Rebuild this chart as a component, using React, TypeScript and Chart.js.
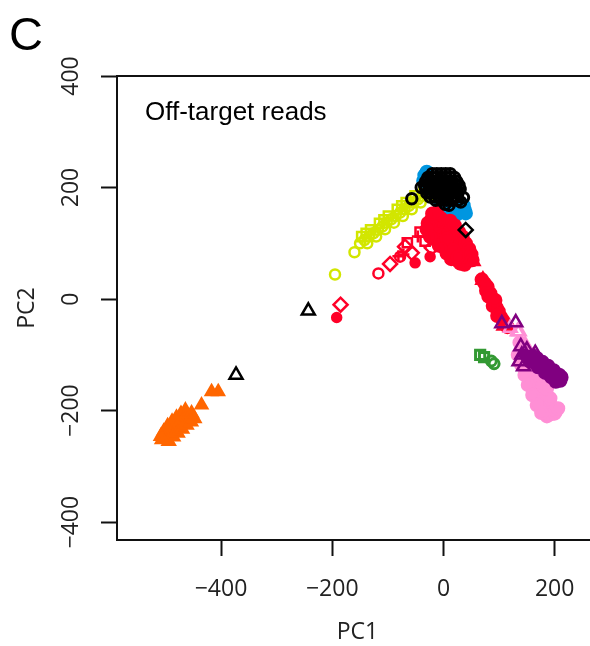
import { useEffect, useRef } from 'react';
import { Chart, registerables } from 'chart.js';

Chart.register(...registerables);

// PCA scores (PC1, PC2) per sample group
const orangeBlob = [
  [-503, -238], [-496, -228], [-488, -220], [-480, -213], [-472, -206], [-464, -200],
  [-500, -248], [-492, -240], [-484, -232], [-476, -225], [-468, -218], [-460, -211],
  [-453, -205], [-494, -255], [-486, -247], [-478, -240], [-470, -233], [-462, -226],
  [-454, -220], [-448, -214], [-508, -246], [-506, -252],
];
const orangeTri = [[-435, -190], [-417, -166], [-405, -166]];

const blackTri = [[-373, -136], [-243, -21]];
const blackDiamond = [[40, 124]];
const blackCircles = [
  [-57, 180], [3, 170], [31, 174], [10, 168], [36, 182], [-40, 200],
  [-20, 225], [-12, 225], [-4, 225], [4, 225], [12, 225],
  [-28, 218], [-20, 218], [-12, 218], [-4, 218], [4, 218], [12, 218], [20, 218],
  [-32, 211], [-24, 211], [-16, 211], [-8, 211], [0, 211], [8, 211], [16, 211], [24, 211],
  [-34, 204], [-26, 204], [-18, 204], [-10, 204], [-2, 204], [6, 204], [14, 204], [22, 204], [28, 204],
  [-32, 197], [-24, 197], [-16, 197], [-8, 197], [0, 197], [8, 197], [16, 197], [24, 197], [30, 197],
  [-30, 190], [-22, 190], [-14, 190], [-6, 190], [2, 190], [10, 190], [18, 190], [26, 190],
  [-24, 183], [-16, 183], [-8, 183], [0, 183], [8, 183], [16, 183], [24, 183],
  [-14, 177], [-4, 177], [6, 177], [16, 177], [26, 177],
  [-28, 214], [-20, 207], [-6, 214], [10, 207], [18, 200], [-12, 193], [4, 186], [20, 193],
];
const blueDots = [
  [-34, 222], [-36, 212], [-30, 228], [0, 160], [8, 156], [16, 154], [24, 152],
  [32, 156], [38, 160], [30, 166], [20, 162], [12, 166], [4, 168], [36, 168],
  [26, 158], [-6, 166], [40, 154],
];

const limeCircles = [
  [-195, 44], [-160, 84],
  [-150, 100], [-142, 106], [-134, 112], [-126, 118], [-118, 124], [-110, 130],
  [-102, 137], [-94, 143], [-86, 149], [-78, 155], [-70, 161], [-62, 167],
  [-54, 173], [-46, 179], [-38, 185], [-30, 191], [-24, 197],
  [-137, 100], [-121, 112], [-105, 125], [-89, 137], [-73, 149], [-57, 161],
  [-41, 173], [-25, 185],
];
const limeSquares = [
  [-147, 112], [-131, 124], [-115, 136], [-99, 149], [-83, 161], [-67, 173],
  [-51, 185], [-35, 197], [-139, 118], [-107, 142], [-75, 167],
];

const redDots = [
  [-18, 150], [-10, 148], [-5, 145], [-22, 142], [-15, 138], [-7, 136], [0, 140],
  [-25, 132], [-16, 128], [-6, 126], [2, 130], [8, 125], [-20, 120], [-10, 116],
  [0, 114], [10, 118], [16, 112], [-14, 106], [-4, 104], [5, 102], [14, 100],
  [22, 104], [-8, 96], [2, 92], [12, 90], [20, 92], [28, 96], [6, 82], [16, 80],
  [24, 82], [32, 86], [14, 72], [24, 70], [34, 74], [40, 78], [30, 64], [38, 62],
  [44, 68], [-28, 136], [6, 108], [18, 88], [26, 76],
  [-20, 153], [-12, 155], [-30, 125], [-24, 112], [12, 140], [20, 132], [28, 120],
  [34, 112], [40, 100], [46, 90], [50, 80], [52, 70],
  [69, 35], [74, 28], [79, 22], [77, 15], [84, 10], [87, 2], [91, -5], [89, -12],
  [95, -15], [99, -22], [97, -30], [103, -32], [107, -38], [111, -45], [115, -50],
  [81, 5], [93, -2],
];
const redFilled = [[-192, -33], [-51, 65], [-24, 76], [-3, 92]];
const redTri = [[53, 68], [71, 34], [109, -48]];
const redSquares = [[-65, 101], [-42, 120], [-33, 104]];
const redDiamonds = [[-185, -10], [-96, 63], [-57, 83], [-21, 92], [-69, 94]];
const redCircles = [[-117, 46], [-78, 76]];
const redCrosses = [[-81, 77], [-72, 80], [-46, 112]];

const purpleTri = [
  [105, -44], [130, -42], [139, -85], [150, -91], [165, -97], [144, -121],
  [136, -112], [141, -100],
];
const purpleDots = [
  [148, -98], [154, -103], [160, -108], [166, -112], [172, -117], [178, -121],
  [184, -126], [190, -130], [196, -134], [202, -138], [206, -142], [210, -146],
  [158, -100], [168, -106], [178, -113], [188, -120], [198, -128], [208, -136],
  [156, -112], [170, -122], [183, -132], [194, -140], [202, -148], [212, -140],
];
const pinkTri = [[120, -52], [136, -58], [133, -58], [147, -82]];
const pinkDots = [
  [137, -78], [143, -84], [139, -92], [148, -95], [143, -104], [153, -108],
  [146, -115], [156, -120], [150, -128], [160, -132], [154, -140], [164, -145],
  [158, -152], [168, -156], [163, -164], [173, -168], [168, -176], [178, -180],
  [174, -188], [184, -192], [180, -200], [190, -198], [194, -206], [186, -210],
  [198, -195], [188, -184], [182, -172], [176, -160], [172, -148], [166, -136],
  [162, -124], [158, -110], [200, -205], [203, -200],
  [134, -100], [140, -118], [146, -136], [152, -154], [160, -172], [168, -190],
  [176, -204], [192, -178], [186, -160], [180, -142], [174, -126], [206, -196],
];
const greenSquares = [[66, -100], [73, -104]];
const greenCircles = [[86, -111], [91, -116]];

const xTicks = [-400, -200, 0, 200];
const yTicks = [-400, -200, 0, 200, 400];

// axis extents: PC1 starts at X_MIN on the left edge, PC1 and PC2 share one pixel scale
const X_MIN = -587;
const Y_MIN = -432;
const Y_MAX = 400;
const PX_PER_UNIT = 0.5556;

const COLORS = {
  orange: '#FF6600',
  black: '#000000',
  blue: '#0096E0',
  lime: '#D2E600',
  red: '#FF0028',
  purple: '#800080',
  pink: '#FF8FD5',
  green: '#339933',
};

const TICK_FONT = '"Open Sans", "DejaVu Sans", sans-serif';
const TEXT_FONT = '"Liberation Sans", Arial, sans-serif';

const fmt = (v: number) => (v < 0 ? '\u2212' + Math.abs(v) : String(v));

const series = (
  data: number[][],
  color: string,
  style: string,
  filled: boolean,
  radius: number,
  width = 2.5,
) => ({
  data: data.map(([x, y]) => ({ x, y })),
  pointStyle: style,
  pointRadius: radius,
  pointHoverRadius: radius,
  pointBorderWidth: width,
  pointBorderColor: color,
  pointBackgroundColor: filled ? color : 'rgba(0,0,0,0)',
  showLine: false,
});

// box top edge, rotated y tick labels, panel letter and inset caption
const decorations = {
  id: 'decorations',
  afterDraw(chart: any) {
    const { ctx, chartArea } = chart;
    ctx.save();
    ctx.strokeStyle = '#111';
    ctx.lineWidth = 2;
    ctx.beginPath();
    ctx.moveTo(chartArea.left - 1, chartArea.top);
    ctx.lineTo(chart.width, chartArea.top);
    ctx.stroke();

    const ys = chart.scales.y;
    ctx.fillStyle = '#222';
    ctx.font = `23px ${TICK_FONT}`;
    ctx.textAlign = 'center';
    ctx.textBaseline = 'middle';
    for (const v of yTicks) {
      const py = ys.getPixelForValue(v);
      ctx.save();
      ctx.translate(71, py);
      ctx.rotate(-Math.PI / 2);
      ctx.fillText(fmt(v), 0, 0);
      ctx.restore();
    }

    ctx.fillStyle = '#000';
    ctx.textAlign = 'left';
    ctx.textBaseline = 'alphabetic';
    ctx.font = `47px ${TEXT_FONT}`;
    ctx.fillText('C', 9, 50);
    ctx.font = `26px ${TEXT_FONT}`;
    ctx.fillText('Off-target reads', 145, 120);
    ctx.restore();
  },
};

export default function App() {
  const canvasRef = useRef<HTMLCanvasElement | null>(null);

  useEffect(() => {
    let chart: Chart | null = null;
    let cancelled = false;
    const build = () => {
      if (cancelled || !canvasRef.current) return;
      chart = new Chart(canvasRef.current, {
        type: 'scatter',
        data: {
          datasets: [
            series(blackCircles, COLORS.black, 'circle', false, 5.2, 3),
            series(blackTri, COLORS.black, 'triangle', false, 7.5),
            series(blackDiamond, COLORS.black, 'rectRot', false, 7),
            series(greenSquares, COLORS.green, 'rect', false, 6.5, 3),
            series(greenCircles, COLORS.green, 'circle', false, 5, 3),
            series(purpleTri, COLORS.purple, 'triangle', false, 7.5),
            series(pinkTri, COLORS.pink, 'triangle', false, 7.5),
            series(purpleDots, COLORS.purple, 'circle', true, 6),
            series(pinkDots, COLORS.pink, 'circle', true, 6),
            series(redTri, COLORS.red, 'triangle', false, 7.5),
            series(redSquares, COLORS.red, 'rect', false, 6.5),
            series(redDiamonds, COLORS.red, 'rectRot', false, 7),
            series(redCircles, COLORS.red, 'circle', false, 5),
            series(redCrosses, COLORS.red, 'cross', false, 6),
            series(redFilled, COLORS.red, 'circle', true, 4.5),
            series(redDots, COLORS.red, 'circle', true, 6),
            series(blueDots, COLORS.blue, 'circle', true, 6),
            series(limeCircles, COLORS.lime, 'circle', false, 5),
            series(limeSquares, COLORS.lime, 'rect', false, 6.5),
            series(orangeTri, COLORS.orange, 'triangle', true, 6.5),
            series(orangeBlob, COLORS.orange, 'triangle', true, 7),
          ].map((d, i) => ({ ...d, order: i })) as any,
        },
        options: {
          animation: false,
          responsive: false,
          maintainAspectRatio: false,
          events: [],
          layout: { autoPadding: false, padding: { top: 76, left: 0, right: 0, bottom: 0 } },
          plugins: { legend: { display: false }, tooltip: { enabled: false } },
          scales: {
            x: {
              type: 'linear',
              min: X_MIN,
              max: 270,
              afterBuildTicks: (s: any) => {
                s.ticks = xTicks.map((value) => ({ value }));
              },
              afterFit: (s: any) => {
                s.height = 106;
              },
              grid: {
                drawOnChartArea: false,
                drawTicks: true,
                tickLength: 16,
                tickColor: '#111',
                tickWidth: 2,
              },
              border: { display: true, color: '#111', width: 2 },
              ticks: {
                font: { family: TICK_FONT, size: 23 },
                color: '#222',
                padding: 20,
                maxRotation: 0,
                callback: (v: any) => fmt(Number(v)),
              },
              title: {
                display: true,
                text: 'PC1',
                color: '#222',
                font: { family: TICK_FONT, size: 23 },
                padding: { top: 0, bottom: 0 },
              },
            },
            y: {
              type: 'linear',
              min: Y_MIN,
              max: Y_MAX,
              afterBuildTicks: (s: any) => {
                s.ticks = yTicks.map((value) => ({ value }));
              },
              afterFit: (s: any) => {
                s.width = 117;
              },
              grid: {
                drawOnChartArea: false,
                drawTicks: true,
                tickLength: 16,
                tickColor: '#111',
                tickWidth: 2,
              },
              border: { display: true, color: '#111', width: 2 },
              ticks: { display: false },
              title: {
                display: true,
                text: 'PC2',
                color: '#222',
                font: { family: TICK_FONT, size: 23 },
                padding: { top: 14, bottom: 0 },
              },
            },
          },
        },
        plugins: [decorations],
      });
      // keep PC1 on the same pixel scale as PC2 whatever width the plot area got
      const area = chart.chartArea;
      const xOpts: any = chart.options.scales!.x;
      xOpts.max = X_MIN + (area.right - area.left) / PX_PER_UNIT;
      chart.update();
    };
    const fonts = (document as any).fonts;
    if (fonts && fonts.load) {
      Promise.all([
        fonts.load('23px "Open Sans"'),
        fonts.load('26px "Liberation Sans"'),
      ]).then(build, build);
    } else {
      build();
    }
    return () => {
      cancelled = true;
      if (chart) chart.destroy();
    };
  }, []);

  return (
    <div style={{ position: 'fixed', left: 0, top: 0, width: 590, height: 646, overflow: 'hidden', background: '#fff' }}>
      <canvas ref={canvasRef} width={598} height={646} style={{ width: 598, height: 646, display: 'block' }} />
    </div>
  );
}
